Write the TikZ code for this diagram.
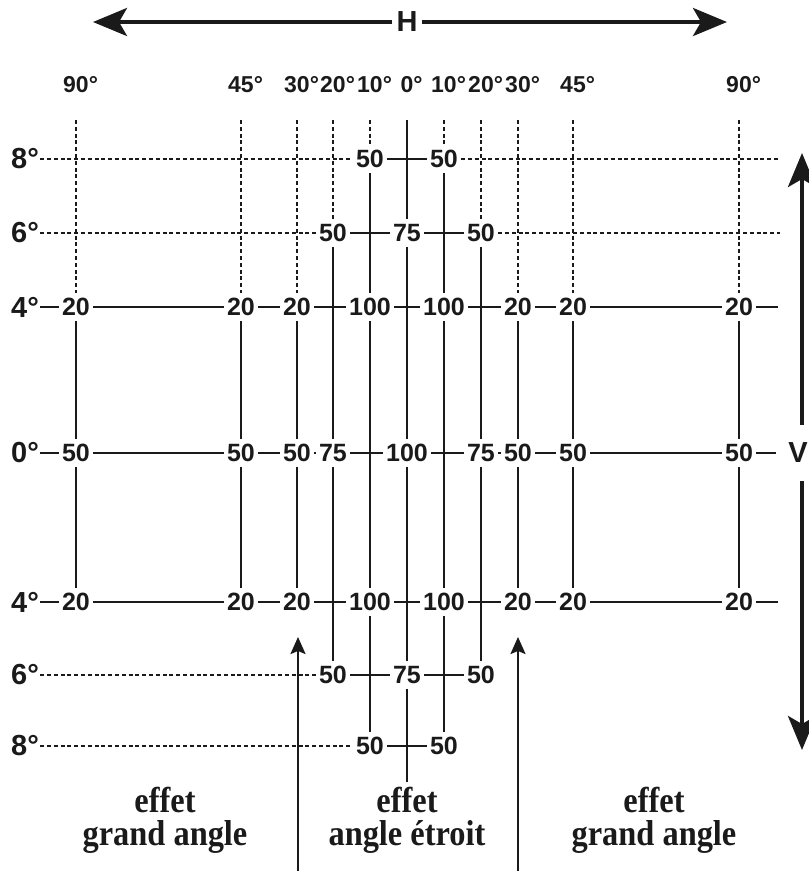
\documentclass[tikz,border=0pt]{standalone}
\usepackage{fontspec}
\setmainfont{Liberation Sans}
\newfontfamily\serifcap[FakeStretch=0.9]{Liberation Serif}
\usetikzlibrary{arrows.meta, positioning}
\definecolor{ink}{HTML}{1A1A1A}
\tikzset{
    num/.style={text=ink, font=\bfseries\fontsize{25}{25}\selectfont, inner xsep=3pt, inner ysep=5pt},
    toplab/.style={text=ink, font=\bfseries\fontsize{23}{23}\selectfont},
    rowlab/.style={text=ink, font=\bfseries\fontsize{29}{29}\selectfont, anchor=west, inner sep=1pt},
    axislab/.style={text=ink, font=\bfseries\fontsize{29}{29}\selectfont},
    effet/.style={text=ink, font=\serifcap\bfseries\fontsize{36}{33}\selectfont, align=center},
    grid/.style={ink, line width=2.4pt},
    dotline/.style={ink, line width=1.8pt, dash pattern=on 4pt off 2.8pt},
    bigarrow/.style={ink, line width=4pt, -{Stealth[length=34pt,width=28pt,inset=8pt]}},
    uparrow/.style={ink, line width=2.3pt, -{Stealth[length=17pt,width=15pt,inset=3pt]}}
}

\begin{document}
\begin{tikzpicture}[x=1pt, y=-1pt]
    \useasboundingbox (0,0) rectangle (809,871);

    % axes
    \node[axislab, inner xsep=4pt] (H) at (407,22) {H};
    \coordinate (ha-l) at (93,22);
    \coordinate (ha-r) at (727,22);
    \node[axislab, inner xsep=12pt, inner ysep=18pt] (V) at (798,453) {V};
    \coordinate (va-t) at (802,153);
    \coordinate (va-b) at (802,750);

    % angles on top
    \node[toplab] (t1) at (76,85) {90\rlap{°}};
    \node[toplab] (t2) at (241,85) {45\rlap{°}};
    \node[toplab] (t3) at (297,85) {30\rlap{°}};
    \node[toplab] (t4) at (333,85) {20\rlap{°}};
    \node[toplab] (t5) at (370,85) {10\rlap{°}};
    \node[toplab] (t6) at (407,85) {0\rlap{°}};
    \node[toplab] (t7) at (444,85) {10\rlap{°}};
    \node[toplab] (t8) at (481,85) {20\rlap{°}};
    \node[toplab] (t9) at (518,85) {30\rlap{°}};
    \node[toplab] (t10) at (573,85) {45\rlap{°}};
    \node[toplab] (t11) at (739,85) {90\rlap{°}};

    \coordinate (top1) at (76,120);
    \coordinate (top2) at (241,120);
    \coordinate (top3) at (297,120);
    \coordinate (top4) at (333,120);
    \coordinate (top5) at (370,120);
    \coordinate (top6) at (407,120);
    \coordinate (top7) at (444,120);
    \coordinate (top8) at (481,120);
    \coordinate (top9) at (518,120);
    \coordinate (top10) at (573,120);
    \coordinate (top11) at (739,120);
    \coordinate (bot6) at (407,782);

    % row labels
    \node[rowlab] (l-u8) at (10,159) {8°};
    \node[rowlab] (l-u6) at (10,233) {6°};
    \node[rowlab] (l-u4) at (10,307) {4°};
    \node[rowlab] (l-m0) at (10,453) {0°};
    \node[rowlab] (l-d4) at (10,602) {4°};
    \node[rowlab] (l-d6) at (10,675) {6°};
    \node[rowlab] (l-d8) at (10,746) {8°};

    \coordinate (e-u8) at (780,159);
    \coordinate (e-u6) at (780,233);
    \coordinate (e-u4) at (778,307);
    \coordinate (e-d4) at (778,602);

    % values
    \node[num] (u8-5) at (370,159) {50};
    \node[num] (u8-7) at (444,159) {50};

    \node[num] (u6-4) at (333,233) {50};
    \node[num] (u6-6) at (407,233) {75};
    \node[num] (u6-8) at (481,233) {50};

    \node[num] (u4-1) at (76,307) {20};
    \node[num] (u4-2) at (241,307) {20};
    \node[num] (u4-3) at (297,307) {20};
    \node[num] (u4-5) at (370,307) {100};
    \node[num] (u4-7) at (444,307) {100};
    \node[num] (u4-9) at (518,307) {20};
    \node[num] (u4-10) at (573,307) {20};
    \node[num] (u4-11) at (739,307) {20};

    \node[num] (m0-1) at (76,453) {50};
    \node[num] (m0-2) at (241,453) {50};
    \node[num] (m0-3) at (297,453) {50};
    \node[num] (m0-4) at (333,453) {75};
    \node[num] (m0-6) at (407,453) {100};
    \node[num] (m0-8) at (481,453) {75};
    \node[num] (m0-9) at (518,453) {50};
    \node[num] (m0-10) at (573,453) {50};
    \node[num] (m0-11) at (739,453) {50};

    \node[num] (d4-1) at (76,602) {20};
    \node[num] (d4-2) at (241,602) {20};
    \node[num] (d4-3) at (297,602) {20};
    \node[num] (d4-5) at (370,602) {100};
    \node[num] (d4-7) at (444,602) {100};
    \node[num] (d4-9) at (518,602) {20};
    \node[num] (d4-10) at (573,602) {20};
    \node[num] (d4-11) at (739,602) {20};

    \node[num] (d6-4) at (333,675) {50};
    \node[num] (d6-6) at (407,675) {75};
    \node[num] (d6-8) at (481,675) {50};

    \node[num] (d8-5) at (370,746) {50};
    \node[num] (d8-7) at (444,746) {50};

    % captions
    \node[effet] (fx-l) at (165,820) {effet\\grand angle};
    \node[effet] (fx-m) at (407,820) {effet\\angle étroit};
    \node[effet] (fx-r) at (654,820) {effet\\grand angle};

    \coordinate (al-s) at (298,871);
    \coordinate (al-e) at (298,637);
    \coordinate (ar-s) at (518,871);
    \coordinate (ar-e) at (518,637);

    % arrows
    \draw[bigarrow] (H) -- (ha-l);
    \draw[bigarrow] (H) -- (ha-r);
    \draw[bigarrow] (V.north -| va-t) -- (va-t);
    \draw[bigarrow] (V.south -| va-b) -- (va-b);
    \draw[uparrow] (al-s) -- (al-e);
    \draw[uparrow] (ar-s) -- (ar-e);

    % dotted lines
    \draw[dotline]
        (l-u8) -- (u8-5)  (u8-7) -- (e-u8)
        (l-u6) -- (u6-4)  (u6-8) -- (e-u6)
        (l-d6) -- (d6-4)
        (l-d8) -- (d8-5)
        (top1) -- (u4-1)  (top2) -- (u4-2)  (top3) -- (u4-3)
        (top4) -- (u6-4)  (top5) -- (u8-5)
        (top7) -- (u8-7)  (top8) -- (u6-8)
        (top9) -- (u4-9)  (top10) -- (u4-10)  (top11) -- (u4-11);

    % full lines
    \draw[grid]
        (u8-5) -- (u8-7)
        (u6-4) -- (u6-6) -- (u6-8)
        (l-u4) -- (u4-1) -- (u4-2) -- (u4-3) -- (u4-5) -- (u4-7) -- (u4-9) -- (u4-10) -- (u4-11) -- (e-u4)
        (l-m0) -- (m0-1) -- (m0-2) -- (m0-3) -- (m0-4) -- (m0-6) -- (m0-8) -- (m0-9) -- (m0-10) -- (m0-11) -- (V)
        (l-d4) -- (d4-1) -- (d4-2) -- (d4-3) -- (d4-5) -- (d4-7) -- (d4-9) -- (d4-10) -- (d4-11) -- (e-d4)
        (d6-4) -- (d6-6) -- (d6-8)
        (d8-5) -- (d8-7);
    \draw[grid]
        (u4-1) -- (m0-1) -- (d4-1)
        (u4-2) -- (m0-2) -- (d4-2)
        (u4-3) -- (m0-3) -- (d4-3)
        (u6-4) -- (m0-4) -- (d6-4)
        (u8-5) -- (u4-5) (u4-5) -- (d4-5) (d4-5) -- (d8-5)
        (top6) -- (u6-6) -- (m0-6) -- (d6-6) -- (bot6)
        (u8-7) -- (u4-7) (u4-7) -- (d4-7) (d4-7) -- (d8-7)
        (u6-8) -- (m0-8) -- (d6-8)
        (u4-9) -- (m0-9) -- (d4-9)
        (u4-10) -- (m0-10) -- (d4-10)
        (u4-11) -- (m0-11) -- (d4-11);
\end{tikzpicture}
\end{document}
